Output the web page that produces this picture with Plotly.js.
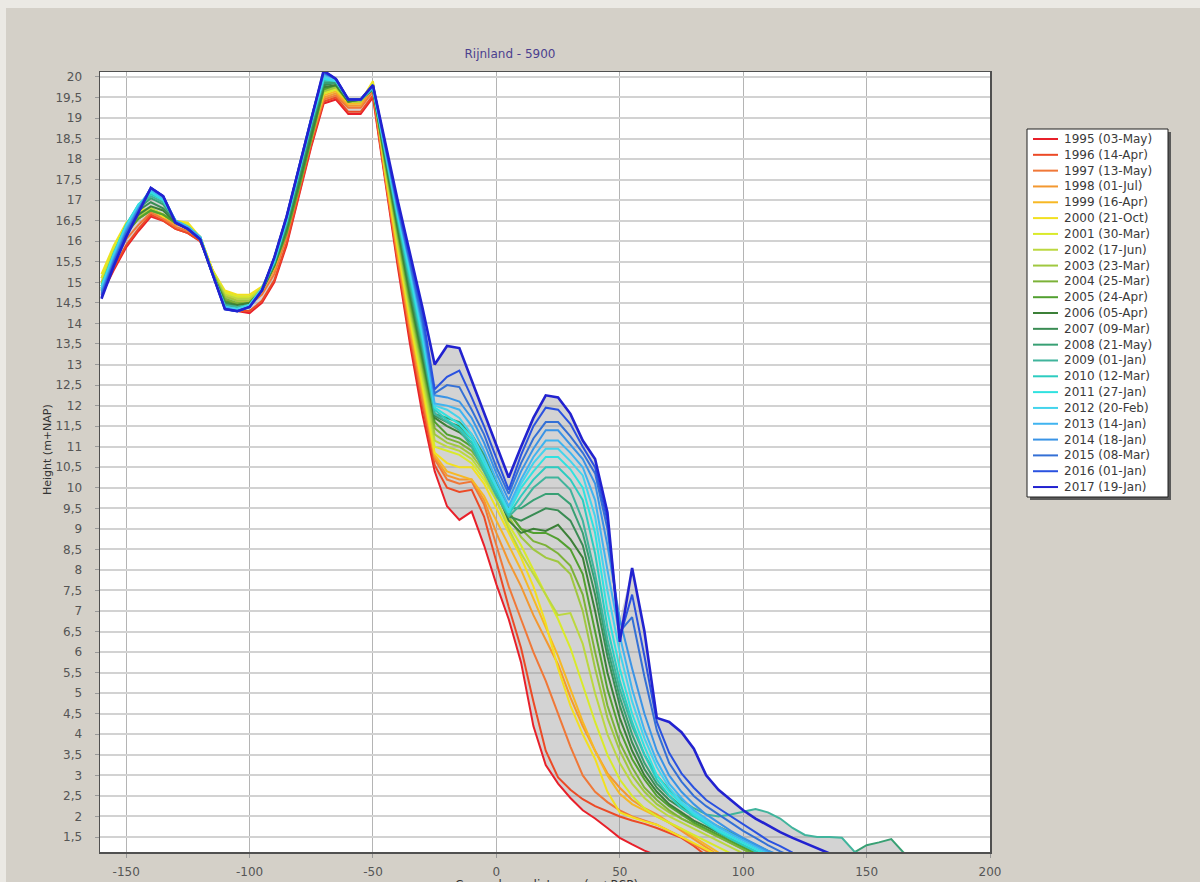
<!DOCTYPE html>
<html><head><meta charset="utf-8">
<script src="https://cdn.plot.ly/plotly-3.0.1.min.js"></script>
<style>html,body{margin:0;padding:0;background:#d4d0c8;}#chart{width:1200px;height:882px;}</style>
</head><body><div id="chart"></div>
<script>
// Cross-shore distance (m) shared by all profiles
const distance = [-160,-155,-150,-145,-140,-135,-130,-125,-120,-115,-110,-105,-100,-95,-90,-85,-80,-75,-70,-65,-60,-55,-50,-45,-40,-35,-30,-25,-20,-15,-10,-5,0,5,10,15,20,25,30,35,40,45,50,55,60,65,70,75,80,85,90,95,100,105,110,115,120,125,130,135,140,145,150,155,160,165,170];

const surveyLabels = ['1995 (03-May)','1996 (14-Apr)','1997 (13-May)','1998 (01-Jul)','1999 (16-Apr)','2000 (21-Oct)','2001 (30-Mar)','2002 (17-Jun)','2003 (23-Mar)','2004 (25-Mar)','2005 (24-Apr)','2006 (05-Apr)','2007 (09-Mar)','2008 (21-May)','2009 (01-Jan)','2010 (12-Mar)','2011 (27-Jan)','2012 (20-Feb)','2013 (14-Jan)','2014 (18-Jan)','2015 (08-Mar)','2016 (01-Jan)','2017 (19-Jan)'];

const xTickValues = [-150,-100,-50,0,50,100,150,200];
const xTickLabels = ['-150','-100','-50','0','50','100','150','200'];

// Heights (m+NAP) per survey
const h1995 = [14.7,15.3,15.85,16.25,16.6,16.5,16.3,16.2,16.0,15.3,14.5,14.3,14.25,14.5,15.0,15.9,17.1,18.3,19.35,19.45,19.1,19.1,19.5,
  17.4,15.4,13.5,11.8,10.4,9.55,9.22,9.42,8.6,7.65,6.8,5.75,4.2,3.25,2.8,2.45,2.15,1.95,1.72,1.48,1.32,1.17,1.05];
const h1996 = [14.75,15.35,15.9,16.3,16.65,16.5,16.3,16.2,16.0,15.3,14.5,14.3,14.3,14.55,15.05,15.95,17.15,18.35,19.4,19.5,19.15,19.15,19.55,
  17.5,15.5,13.65,12.0,10.55,10.0,9.9,9.95,9.3,8.2,7.1,6.1,4.8,3.6,2.95,2.65,2.42,2.25,2.12,2.0,1.9,1.82,1.72,1.6,1.48,1.28,1.05];
const h1997 = [14.9,15.5,16.05,16.4,16.7,16.55,16.35,16.25,16.05,15.3,14.6,14.45,14.45,14.7,15.2,16.1,17.25,18.45,19.45,19.55,19.25,19.25,19.65,
  17.55,15.6,13.8,12.15,10.7,10.2,10.1,10.15,9.6,8.6,7.6,6.8,6.0,5.3,4.5,3.7,3.0,2.6,2.35,2.15,2.0,1.9,1.8,1.65,1.5,1.32,1.15,1.0];
const h1998 = [15.0,15.65,16.2,16.55,16.75,16.6,16.4,16.35,16.05,15.3,14.7,14.55,14.55,14.8,15.3,16.2,17.3,18.5,19.5,19.6,19.3,19.3,19.75,
  17.6,15.7,13.9,12.3,10.75,10.3,10.2,10.2,9.7,8.9,8.2,7.6,6.9,6.3,5.7,4.9,4.2,3.6,3.05,2.7,2.4,2.2,2.05,1.85,1.65,1.45,1.25,1.05];
const h1999 = [15.1,15.8,16.35,16.7,16.8,16.6,16.45,16.4,16.1,15.3,14.75,14.65,14.65,14.85,15.35,16.25,17.35,18.55,19.55,19.65,19.35,19.35,19.85,
  17.65,15.8,14.0,12.4,10.8,10.4,10.3,10.2,9.8,9.2,8.6,8.0,7.3,6.6,5.9,5.1,4.3,3.6,3.0,2.55,2.3,2.15,2.0,1.85,1.7,1.5,1.3,1.12,1.0];
const h2000 = [15.2,15.9,16.45,16.75,16.8,16.6,16.5,16.45,16.1,15.3,14.8,14.7,14.7,14.9,15.4,16.3,17.4,18.6,19.6,19.7,19.4,19.4,19.9,
  17.7,15.85,14.1,12.5,10.85,10.6,10.5,10.5,10.1,9.5,8.9,8.3,7.6,6.7,5.6,4.7,4.0,3.4,2.6,2.1,1.98,1.88,1.8,1.65,1.5,1.35,1.2,1.05];
const h2001 = [15.1,15.85,16.4,16.7,16.8,16.65,16.5,16.4,16.1,15.3,14.75,14.65,14.65,14.85,15.4,16.3,17.4,18.6,19.6,19.7,19.4,19.4,19.85,
  17.75,15.95,14.2,12.6,11.0,10.9,10.8,10.6,10.2,9.7,9.1,8.6,8.0,7.4,6.8,6.1,5.2,4.3,3.5,2.9,2.5,2.2,2.0,1.85,1.7,1.55,1.4,1.25,1.1,1.0];
const h2002 = [15.0,15.75,16.3,16.65,16.8,16.65,16.45,16.35,16.1,15.25,14.7,14.6,14.6,14.85,15.4,16.25,17.35,18.55,19.65,19.75,19.4,19.4,19.8,
  17.8,16.0,14.3,12.75,11.15,11.0,10.9,10.7,10.3,9.7,9.0,8.4,7.9,7.4,6.9,6.95,6.2,5.0,4.0,3.3,2.8,2.45,2.2,2.0,1.85,1.7,1.55,1.4,1.25,1.1,1.0];
const h2003 = [14.95,15.7,16.25,16.6,16.75,16.65,16.45,16.3,16.05,15.25,14.65,14.55,14.55,14.8,15.4,16.2,17.3,18.5,19.65,19.75,19.4,19.4,19.75,
  17.85,16.1,14.4,12.9,11.3,11.1,11.0,10.8,10.4,9.9,9.3,8.8,8.5,8.3,8.2,7.9,7.0,5.6,4.4,3.6,3.0,2.6,2.3,2.1,1.95,1.8,1.65,1.5,1.35,1.2,1.05];
const h2004 = [14.85,15.65,16.2,16.55,16.75,16.65,16.45,16.3,16.05,15.2,14.6,14.5,14.5,14.8,15.4,16.2,17.3,18.5,19.7,19.8,19.4,19.45,19.7,
  17.9,16.2,14.5,13.0,11.45,11.2,11.1,10.9,10.5,10.0,9.4,9.0,8.7,8.6,8.4,8.1,7.4,6.0,4.7,3.8,3.2,2.7,2.4,2.15,1.95,1.8,1.65,1.5,1.35,1.2,1.05];
const h2005 = [14.8,15.6,16.2,16.55,16.75,16.65,16.45,16.3,16.05,15.2,14.55,14.45,14.5,14.8,15.4,16.2,17.3,18.5,19.7,19.8,19.4,19.45,19.7,
  17.95,16.3,14.6,13.1,11.6,11.3,11.2,11.0,10.6,10.0,9.4,9.0,8.9,8.9,8.75,8.5,7.9,6.5,5.1,4.1,3.4,2.9,2.5,2.25,2.05,1.85,1.7,1.55,1.4,1.25,1.1,1.0];
const h2006 = [14.8,15.6,16.25,16.65,16.85,16.75,16.45,16.3,16.05,15.2,14.5,14.45,14.5,14.8,15.4,16.3,17.4,18.6,19.75,19.8,19.4,19.45,19.7,
  18.0,16.35,14.7,13.2,11.7,11.5,11.35,11.1,10.6,9.9,9.2,8.9,9.0,8.95,9.1,8.75,8.3,7.0,5.5,4.4,3.6,3.0,2.6,2.3,2.1,1.9,1.75,1.6,1.45,1.3,1.15,1.0];
const h2007 = [14.85,15.65,16.3,16.75,16.95,16.8,16.5,16.3,16.05,15.2,14.5,14.4,14.45,14.8,15.45,16.35,17.5,18.7,19.8,19.85,19.45,19.45,19.7,
  18.05,16.4,14.8,13.3,11.75,11.6,11.5,11.2,10.7,10.0,9.3,9.2,9.35,9.5,9.45,9.2,8.6,7.4,5.9,4.7,3.8,3.15,2.7,2.4,2.2,2.0,1.85,1.7,1.55,1.4,1.25,1.1,1.0];
const h2008 = [14.85,15.65,16.35,16.8,17.05,16.9,16.5,16.35,16.1,15.2,14.45,14.4,14.45,14.8,15.45,16.4,17.6,18.8,19.85,19.85,19.45,19.45,19.7,
  18.1,16.5,14.9,13.4,11.8,11.7,11.6,11.3,10.8,10.1,9.5,9.5,9.7,9.85,9.85,9.6,8.9,7.7,6.1,4.9,4.0,3.3,2.8,2.5,2.25,2.05,1.9,1.75,1.6,1.45,1.3,1.15,1.02,0.95,0.9,0.88,0.9,0.95,1.12,1.3,1.37,1.45,1.12,0.9];
const h2009 = [14.9,15.7,16.4,16.85,17.1,16.95,16.5,16.35,16.1,15.2,14.45,14.4,14.45,14.85,15.5,16.45,17.65,18.85,19.9,19.9,19.45,19.45,19.75,
  18.1,16.55,15.0,13.5,11.8,11.6,11.4,11.0,10.4,9.8,9.3,9.6,10.0,10.25,10.25,9.95,9.2,7.9,6.3,5.1,4.2,3.5,3.0,2.65,2.4,2.2,2.05,2.0,2.05,2.12,2.18,2.1,1.95,1.72,1.55,1.5,1.5,1.48,1.15,1.0];
const h2010 = [14.9,15.7,16.4,16.9,17.15,17.0,16.5,16.35,16.1,15.2,14.4,14.35,14.45,14.85,15.5,16.5,17.7,18.9,19.95,19.9,19.45,19.45,19.75,
  18.15,16.6,15.1,13.6,11.9,11.65,11.45,11.1,10.5,9.9,9.35,9.8,10.2,10.5,10.5,10.2,9.7,8.4,6.6,5.3,4.3,3.5,2.9,2.5,2.2,2.0,1.8,1.62,1.45,1.3,1.15,1.0];
const h2011 = [14.9,15.7,16.4,16.9,17.2,17.0,16.5,16.35,16.1,15.2,14.4,14.35,14.45,14.85,15.5,16.5,17.7,18.9,19.95,19.9,19.45,19.45,19.75,
  18.2,16.65,15.2,13.7,11.95,11.75,11.55,11.2,10.6,10.0,9.4,10.0,10.4,10.75,10.75,10.45,10.0,8.9,7.0,5.6,4.5,3.7,3.0,2.6,2.3,2.05,1.85,1.65,1.5,1.35,1.2,1.05];
const h2012 = [14.85,15.65,16.35,16.85,17.25,17.05,16.5,16.35,16.1,15.2,14.4,14.35,14.45,14.85,15.55,16.55,17.75,18.95,20.0,19.9,19.45,19.45,19.75,
  18.2,16.7,15.3,13.8,12.0,11.9,11.7,11.3,10.7,10.05,9.45,10.1,10.6,10.95,10.95,10.65,10.3,9.3,7.5,6.0,4.8,3.9,3.2,2.7,2.35,2.1,1.9,1.7,1.55,1.4,1.25,1.1,1.0];
const h2013 = [14.8,15.6,16.3,16.8,17.25,17.05,16.5,16.35,16.1,15.2,14.4,14.3,14.4,14.8,15.55,16.55,17.75,18.95,20.05,19.95,19.45,19.45,19.75,
  18.25,16.75,15.4,13.9,12.05,12.0,11.9,11.5,10.9,10.2,9.55,10.2,10.75,11.15,11.15,10.85,10.5,9.7,8.0,6.4,5.1,4.1,3.35,2.8,2.45,2.15,1.95,1.75,1.58,1.42,1.28,1.13,1.0];
const h2014 = [14.75,15.55,16.25,16.8,17.3,17.1,16.5,16.3,16.05,15.2,14.35,14.3,14.4,14.8,15.6,16.6,17.8,19.0,20.1,19.95,19.45,19.45,19.8,
  18.3,16.8,15.45,14.0,12.25,12.2,12.1,11.7,11.1,10.35,9.7,10.4,10.95,11.4,11.4,11.05,10.7,10.1,8.6,6.8,5.6,4.5,3.6,3.0,2.6,2.3,2.05,1.85,1.65,1.48,1.32,1.17,1.05];
const h2015 = [14.7,15.5,16.2,16.75,17.3,17.1,16.45,16.3,16.05,15.2,14.35,14.3,14.4,14.8,15.6,16.6,17.8,19.0,20.1,19.95,19.45,19.45,19.8,
  18.3,16.85,15.5,14.1,12.3,12.5,12.45,11.9,11.3,10.5,9.85,10.6,11.2,11.6,11.6,11.25,10.85,10.35,9.0,6.5,6.85,5.4,4.1,3.3,2.85,2.5,2.25,2.05,1.85,1.65,1.48,1.3,1.15,1.02];
const h2016 = [14.65,15.45,16.15,16.7,17.3,17.1,16.45,16.3,16.05,15.2,14.35,14.3,14.4,14.8,15.6,16.6,17.8,19.0,20.15,19.95,19.45,19.45,19.8,
  18.35,16.9,15.6,14.25,12.4,12.7,12.85,12.2,11.5,10.7,9.95,10.8,11.5,11.95,11.9,11.55,11.0,10.5,9.2,6.35,7.4,5.9,4.3,3.55,3.05,2.7,2.4,2.2,2.0,1.8,1.6,1.42,1.28,1.12,1.0];
const h2017 = [14.6,15.4,16.1,16.7,17.3,17.1,16.45,16.3,16.05,15.2,14.35,14.3,14.4,14.8,15.6,16.6,17.8,19.0,20.15,19.95,19.45,19.45,19.8,
  18.4,17.0,15.7,14.4,13.0,13.45,13.4,12.6,11.85,11.0,10.25,11.0,11.7,12.25,12.2,11.8,11.15,10.7,9.4,6.25,8.05,6.5,4.4,4.3,4.05,3.65,3.0,2.65,2.4,2.15,1.95,1.78,1.62,1.48,1.35,1.22,1.1];

const profiles = [h1995,h1996,h1997,h1998,h1999,h2000,h2001,h2002,h2003,h2004,h2005,h2006,h2007,h2008,h2009,h2010,h2011,h2012,h2013,h2014,h2015,h2016,h2017];

const lineColors = ['#e8202a','#ec4a26','#f07838','#f39830','#f7b824','#f2e020','#d9ea2a','#bcd840','#a0c840','#7cb238','#52a030','#3c8038','#3a8c54','#38a074','#40b49c','#2cccc0','#30e2e0','#44d4ec','#40b4f0','#3a94e6','#3470d6','#2a52e0','#2222d0'];

// Envelope between lowest and highest profile (grey band)
const envTop = distance.map((d,i)=>{let m=-Infinity;profiles.forEach(p=>{const v=p[i];if(v!=null&&v>m)m=v;});return m===-Infinity?0:m;});
const envBot = distance.map((d,i)=>{let m=Infinity;profiles.forEach(p=>{const v=(p[i]==null)?0:p[i];if(v<m)m=v;});return m;});

const traces = [{
  x: distance.concat(distance.slice().reverse()),
  y: envTop.concat(envBot.slice().reverse()),
  type:'scatter', mode:'lines', fill:'toself', fillcolor:'rgba(150,150,150,0.42)',
  line:{width:0}, hoverinfo:'skip', showlegend:false
}];
profiles.forEach((p,k)=>{
  traces.push({x:distance.slice(0,p.length), y:p, type:'scatter', mode:'lines', name:surveyLabels[k],
    line:{color:lineColors[k], width:(k===22?2.6:2)}, showlegend:false});
});

// pixel helpers for the hand-drawn legend box (plot area 100..990 x 72..852)
const PX=(px)=>(px-100)/890, PY=(py)=>(852-py)/780;
const shapes = [
  {type:'rect',xref:'paper',yref:'paper',x0:PX(0),x1:PX(1200),y0:PY(8),y1:PY(0),fillcolor:'#ebe9e4',line:{width:0},layer:'below'},
  {type:'rect',xref:'paper',yref:'paper',x0:PX(0),x1:PX(6),y0:PY(882),y1:PY(0),fillcolor:'#ebe9e4',line:{width:0},layer:'below'},
  {type:'rect',xref:'paper',yref:'paper',x0:PX(1030),x1:PX(1171),y0:PY(500),y1:PY(132),fillcolor:'#5a5a5a',line:{width:0}},
  {type:'rect',xref:'paper',yref:'paper',x0:PX(1027),x1:PX(1168),y0:PY(497),y1:PY(129),fillcolor:'#ffffff',line:{color:'#202020',width:1}}
];
const annotations = [];
surveyLabels.forEach((lab,k)=>{
  const py = 139 + k*15.82;
  shapes.push({type:'line',xref:'paper',yref:'paper',x0:PX(1033),x1:PX(1058),y0:PY(py),y1:PY(py),line:{color:lineColors[k],width:2}});
  annotations.push({xref:'paper',yref:'paper',x:PX(1062),y:PY(py),xanchor:'left',yanchor:'middle',showarrow:false,text:lab,
    font:{family:'DejaVu Sans',size:12,color:'#3a3a3a'}});
});
annotations.push({xref:'paper',yref:'paper',x:PX(47),y:PY(450),textangle:-90,showarrow:false,xanchor:'center',yanchor:'middle',
  text:'Height (m+NAP)',font:{family:'DejaVu Sans',size:11,color:'#333'}});
annotations.push({xref:'paper',yref:'paper',x:PX(546),y:PY(885),showarrow:false,xanchor:'center',yanchor:'middle',
  text:'Cross-shore distance (m+RSP)',font:{family:'DejaVu Sans',size:12,color:'#333'}});

const layout = {
  width:1200, height:882,
  paper_bgcolor:'#d4d0c8', plot_bgcolor:'#ffffff',
  margin:{l:100,r:210,t:72,b:30},
  separators:', ',
  font:{family:'DejaVu Sans',size:12,color:'#555'},
  title:{text:'Rijnland - 5900', xref:'paper', x:PX(510), xanchor:'center', yref:'container', y:1-54/882, yanchor:'middle',
    font:{family:'DejaVu Sans',size:12,color:'#4b3f8f'}},
  xaxis:{range:[-160.6,200], tickvals:xTickValues, ticktext:xTickLabels, showgrid:true, gridcolor:'#b4b4b4', gridwidth:1,
    zeroline:false, showline:true, linecolor:'#505050', linewidth:1.5, mirror:true, ticks:'outside', ticklen:4, tickcolor:'#999',
    tickfont:{family:'DejaVu Sans',size:12,color:'#555'}, ticklabelstandoff:4},
  yaxis:{range:[1.135,20.12], dtick:0.5, tick0:0, showgrid:true, gridcolor:'#d2d2d2', gridwidth:2,
    zeroline:false, showline:true, linecolor:'#505050', linewidth:1.5, mirror:true, ticks:'outside', ticklen:4, tickcolor:'#999',
    tickfont:{family:'DejaVu Sans',size:12,color:'#555'}, ticklabelstandoff:10},
  shapes:shapes, annotations:annotations, showlegend:false
};
Plotly.newPlot('chart', traces, layout, {staticPlot:true, displayModeBar:false});
</script></body></html>
